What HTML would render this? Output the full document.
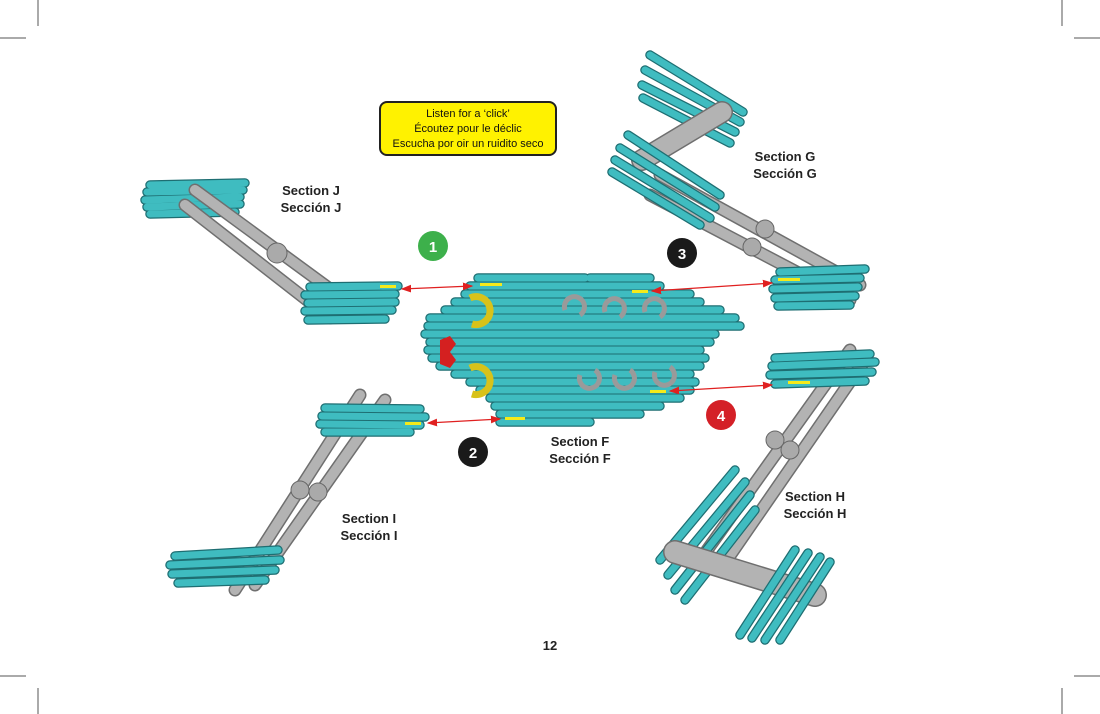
<!DOCTYPE html>
<html><head><meta charset="utf-8"><style>
html,body{margin:0;padding:0;background:#fff;width:1100px;height:714px;overflow:hidden}
svg{display:block}
.lbl{font-family:"Liberation Sans",sans-serif;font-weight:bold;font-size:13px;fill:#222;text-anchor:middle}
.num{font-family:"Liberation Sans",sans-serif;font-weight:bold;font-size:15px;fill:#fff;text-anchor:middle}
.yt{font-family:"Liberation Sans",sans-serif;font-size:11px;fill:#111;text-anchor:middle}
.to{stroke:#1e6e72;stroke-width:9.5;stroke-linecap:round;fill:none}
.ti{stroke:#3fbcc0;stroke-width:7;stroke-linecap:round;fill:none}
.go{stroke:#6f6f6f;stroke-linecap:round;fill:none}
.gi{stroke:#b3b3b3;stroke-linecap:round;fill:none}
</style></head><body>
<svg width="1100" height="714" viewBox="0 0 1100 714" xmlns="http://www.w3.org/2000/svg">
<defs>
<marker id="ah" markerWidth="8" markerHeight="8" refX="7" refY="4" orient="auto-start-reverse"><path d="M0,1 L8,4 L0,7 Z" fill="#e02020"/></marker>
</defs>
<g stroke="#555" stroke-width="1">
<line x1="38" y1="0" x2="38" y2="26"/><line x1="0" y1="38" x2="26" y2="38"/>
<line x1="1062" y1="0" x2="1062" y2="26"/><line x1="1074" y1="38" x2="1100" y2="38"/>
<line x1="38" y1="688" x2="38" y2="714"/><line x1="0" y1="676" x2="26" y2="676"/>
<line x1="1062" y1="688" x2="1062" y2="714"/><line x1="1074" y1="676" x2="1100" y2="676"/>
</g>

<g>
<path class="to" d="M150,185L245,183M147,192L243,190M145,200L240,197M147,207L240,204M150,214L235,212"/>
<path class="ti" d="M150,185L245,183M147,192L243,190M145,200L240,197M147,207L240,204M150,214L235,212"/>
<path class="go" stroke-width="13" d="M195,190L345,300M185,205L330,318"/>
<path class="gi" stroke-width="10" d="M195,190L345,300M185,205L330,318"/>
<circle cx="277" cy="253" r="10" fill="#aaa" stroke="#666"/>
<path class="to" d="M310,287L398,286M305,295L395,294M308,303L395,302M305,311L392,310M308,320L385,319"/>
<path class="ti" d="M310,287L398,286M305,295L395,294M308,303L395,302M305,311L392,310M308,320L385,319"/>
<rect x="380" y="285" width="16" height="3" fill="#f5ea1a"/>
</g>

<g>
<path class="to" d="M650,55L743,112M645,70L740,122M642,85L735,132M643,98L730,143"/>
<path class="ti" d="M650,55L743,112M645,70L740,122M642,85L735,132M643,98L730,143"/>
<path class="go" stroke-width="22" d="M722,112L642,160"/>
<path class="gi" stroke-width="19" d="M722,112L642,160"/>
<path class="go" stroke-width="13" d="M660,175L860,285M650,195L850,300"/>
<path class="gi" stroke-width="10" d="M660,175L860,285M650,195L850,300"/>
<circle cx="765" cy="229" r="9" fill="#aaa" stroke="#666"/>
<circle cx="752" cy="247" r="9" fill="#aaa" stroke="#666"/>
<path class="to" d="M628,135L720,195M620,148L715,207M615,160L710,218M612,172L700,225"/>
<path class="ti" d="M628,135L720,195M620,148L715,207M615,160L710,218M612,172L700,225"/>
<path class="to" d="M780,272L865,269M775,280L860,278M773,289L858,287M775,298L855,296M778,306L850,305"/>
<path class="ti" d="M780,272L865,269M775,280L860,278M773,289L858,287M775,298L855,296M778,306L850,305"/>
<rect x="778" y="278" width="22" height="3" fill="#f5ea1a"/>
</g>

<g>
<path class="go" stroke-width="13" d="M360,395L235,590M385,400L255,585"/>
<path class="gi" stroke-width="10" d="M360,395L235,590M385,400L255,585"/>
<circle cx="300" cy="490" r="9" fill="#aaa" stroke="#666"/>
<circle cx="318" cy="492" r="9" fill="#aaa" stroke="#666"/>
<path class="to" d="M325,408L420,409M322,416L425,417M320,424L420,425M325,432L410,432"/>
<path class="ti" d="M325,408L420,409M322,416L425,417M320,424L420,425M325,432L410,432"/>
<rect x="405" y="422" width="16" height="3" fill="#f5ea1a"/>
<path class="to" d="M175,556L278,550M170,565L280,560M172,574L275,570M178,583L265,580"/>
<path class="ti" d="M175,556L278,550M170,565L280,560M172,574L275,570M178,583L265,580"/>
</g>

<g>
<path class="go" stroke-width="13" d="M850,350L700,560M865,360L720,570"/>
<path class="gi" stroke-width="10" d="M850,350L700,560M865,360L720,570"/>
<circle cx="775" cy="440" r="9" fill="#aaa" stroke="#666"/>
<circle cx="790" cy="450" r="9" fill="#aaa" stroke="#666"/>
<path class="to" d="M775,358L870,354M772,366L875,362M770,375L872,372M775,384L865,381"/>
<path class="ti" d="M775,358L870,354M772,366L875,362M770,375L872,372M775,384L865,381"/>
<rect x="788" y="381" width="22" height="3" fill="#f5ea1a"/>
<path class="to" d="M660,560L735,470M668,575L745,482M675,590L750,495M685,600L755,510"/>
<path class="ti" d="M660,560L735,470M668,575L745,482M675,590L750,495M685,600L755,510"/>
<path class="go" stroke-width="24" d="M675,552L815,595"/>
<path class="gi" stroke-width="21" d="M675,552L815,595"/>
<path class="to" d="M795,550L740,635M808,553L752,638M820,557L765,640M830,562L780,640"/>
<path class="ti" d="M795,550L740,635M808,553L752,638M820,557L765,640M830,562L780,640"/>
</g>

<g>
<path class="to" d="M478,278L585,278M590,278L650,278M470,286L660,286M465,294L690,294M455,302L700,302M445,310L720,310M430,318L650,318M620,318L735,318M428,326L740,326M425,334L715,334M430,342L710,342M428,350L700,350M432,358L705,358M440,366L700,366M455,374L690,374M470,382L695,382M480,390L690,390M490,398L680,398M495,406L660,406M500,414L640,414M500,422L590,422"/>
<path class="ti" d="M478,278L585,278M590,278L650,278M470,286L660,286M465,294L690,294M455,302L700,302M445,310L720,310M430,318L650,318M620,318L735,318M428,326L740,326M425,334L715,334M430,342L710,342M428,350L700,350M432,358L705,358M440,366L700,366M455,374L690,374M470,382L695,382M480,390L690,390M490,398L680,398M495,406L660,406M500,414L640,414M500,422L590,422"/>
<g fill="none" stroke="#9a9a9a" stroke-width="5">
<path d="M565,310a10,10 0 1,1 15,5"/><path d="M605,312a10,10 0 1,1 15,5"/><path d="M645,312a10,10 0 1,1 15,5"/>
<path d="M580,375a10,10 0 1,0 15,-5"/><path d="M615,375a10,10 0 1,0 15,-5"/><path d="M655,372a10,10 0 1,0 15,-5"/>
</g>
<g fill="none" stroke="#d8c21a" stroke-width="7">
<path d="M470,298a14,14 0 1,1 2,26"/>
<path d="M470,368a14,14 0 1,1 2,26"/>
</g>
<path d="M440,340l10,-4l6,8l-6,8l6,8l-6,8l-10,-4z" fill="#d42020"/>
<rect x="480" y="283" width="22" height="3" fill="#f5ea1a"/>
<rect x="632" y="290" width="16" height="3" fill="#f5ea1a"/>
<rect x="505" y="417" width="20" height="3" fill="#f5ea1a"/>
<rect x="650" y="390" width="16" height="3" fill="#f5ea1a"/>
</g>

<g stroke="#e02020" stroke-width="1.3" marker-start="url(#ah)" marker-end="url(#ah)">
<line x1="402" y1="289" x2="472" y2="286"/>
<line x1="652" y1="291" x2="772" y2="283"/>
<line x1="428" y1="423" x2="500" y2="419"/>
<line x1="670" y1="391" x2="772" y2="385"/>
</g>

<circle cx="433" cy="246" r="15" fill="#3db04b"/><text class="num" x="433" y="252">1</text>
<circle cx="682" cy="253" r="15" fill="#1a1a1a"/><text class="num" x="682" y="259">3</text>
<circle cx="473" cy="452" r="15" fill="#1a1a1a"/><text class="num" x="473" y="458">2</text>
<circle cx="721" cy="415" r="15" fill="#d42027"/><text class="num" x="721" y="421">4</text>

<rect x="380" y="102" width="176" height="53" rx="7" fill="#fff200" stroke="#222" stroke-width="2"/>
<text class="yt" x="468" y="117">Listen for a ‘click’</text>
<text class="yt" x="468" y="132">Écoutez pour le déclic</text>
<text class="yt" x="468" y="147">Escucha por oir un ruidito seco</text>

<text class="lbl" x="311" y="195">Section J</text><text class="lbl" x="311" y="212">Sección J</text>
<text class="lbl" x="785" y="161">Section G</text><text class="lbl" x="785" y="178">Sección G</text>
<text class="lbl" x="580" y="446">Section F</text><text class="lbl" x="580" y="463">Sección F</text>
<text class="lbl" x="369" y="523">Section I</text><text class="lbl" x="369" y="540">Sección I</text>
<text class="lbl" x="815" y="501">Section H</text><text class="lbl" x="815" y="518">Sección H</text>
<text class="lbl" x="550" y="650">12</text>
</svg>
</body></html>
